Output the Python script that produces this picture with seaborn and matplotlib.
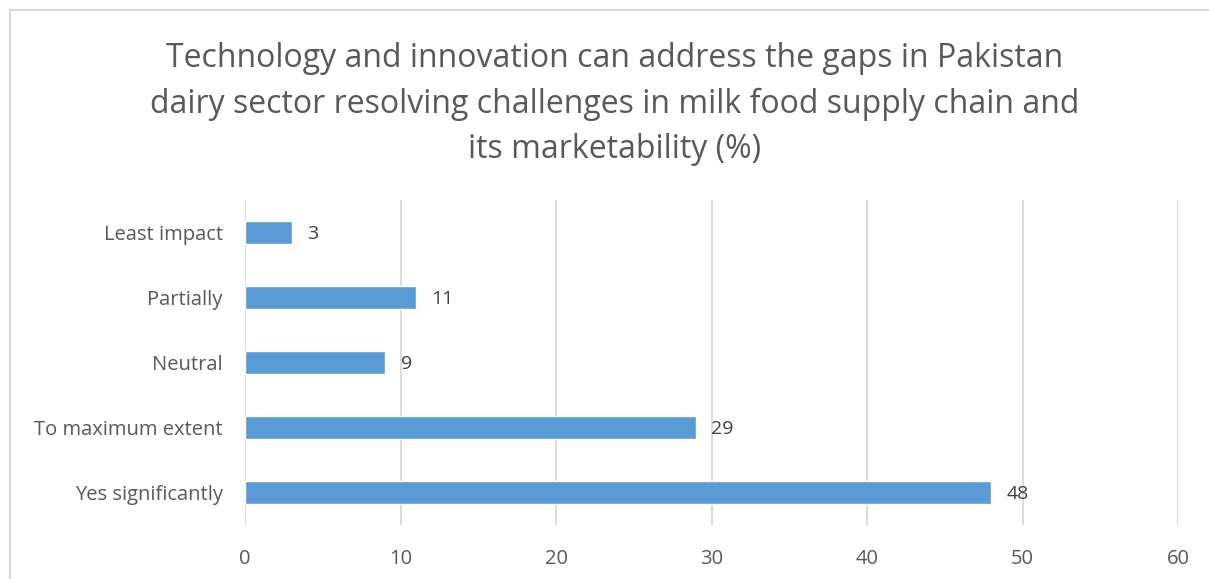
import matplotlib
matplotlib.use('Agg')
import matplotlib.pyplot as plt
import seaborn as sns
import pandas as pd
from matplotlib.patches import Rectangle

categories = ['Least impact', 'Partially', 'Neutral', 'To maximum extent', 'Yes significantly']
values = [3, 11, 9, 29, 48]
title = ('Technology and innovation can address the gaps in Pakistan\n'
         'dairy sector resolving challenges in milk food supply chain and\n'
         'its marketability (%)')

sns.set_style('white')
plt.rcParams['font.family'] = ['Open Sans', 'DejaVu Sans']

df = pd.DataFrame({'category': categories, 'value': values})

fig = plt.figure(figsize=(12.09, 5.79), dpi=100)
ax = fig.add_axes([245 / 1209, 1 - 525 / 579, (1178 - 245) / 1209, 325 / 579])

sns.barplot(data=df, x='value', y='category', color='#5b9bd5', width=0.34,
            saturation=1, ax=ax, zorder=3)

ax.set_xlim(0, 60)
ax.set_xticks(range(0, 61, 10))
ax.grid(axis='x', color='#d9d9d9', linewidth=1.3, zorder=0)
for s in ax.spines.values():
    s.set_visible(False)
ax.set_xlabel('')
ax.set_ylabel('')
ax.tick_params(axis='both', length=0, labelsize=14.5, labelcolor='#595959')
ax.tick_params(axis='y', pad=16)
ax.tick_params(axis='x', pad=17)

for i, v in enumerate(values):
    ax.text(v + 1.0, i + 0.03, str(v), va='center', ha='left', fontsize=14, color='#404040')

fig.text(615 / 1209, 1 - 104 / 579, title, ha='center', va='center',
         fontsize=23, color='#595959', linespacing=1.5)

fig.patches.append(Rectangle((10 / 1209, -0.1), 2, 1.1 - 10 / 579, transform=fig.transFigure,
                             fill=False, edgecolor='#d9d9d9', linewidth=1.5))

fig.savefig('out.png', dpi=100)
